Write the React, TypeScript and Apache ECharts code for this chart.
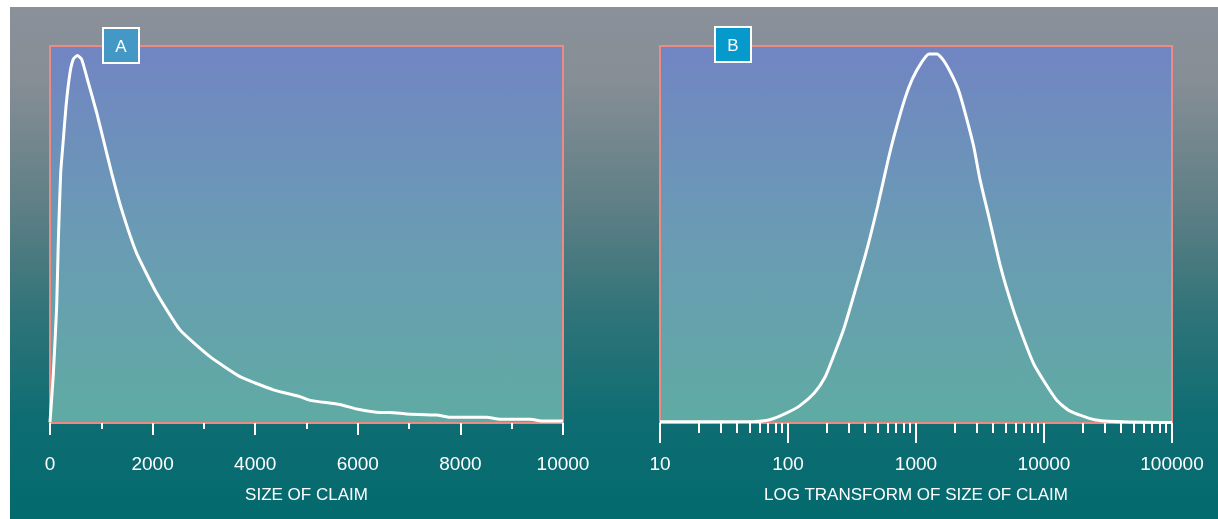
import React, { useEffect, useRef } from "react";
import * as echarts from "echarts";

// Panel A: size of claim vs relative frequency
const claimSizeA = [0, 65, 130, 163, 208, 260, 312, 390, 455, 533, 617, 747, 910, 1040, 1202, 1397, 1690, 2080, 2534, 3119, 3704, 4353, 4873, 5068, 5653, 5978, 6433, 6628, 6952, 7537, 7797, 8512, 8772, 9357, 9617, 10000];
const densityA = [0.2, 13, 30.9, 48.6, 66.3, 75.2, 84, 92.9, 96.5, 97.5, 96.5, 90.3, 82.3, 75.2, 66.3, 56.6, 45, 34.4, 24.7, 17.6, 12.3, 8.8, 7.0, 6.0, 4.9, 3.7, 2.8, 2.8, 2.4, 2.1, 1.5, 1.5, 1.0, 1.0, 0.5, 0.5];

// Panel B: log transform of size of claim
const claimSizeB = [10, 55, 72, 97, 124, 161, 195, 228, 273, 318, 405, 500, 601, 678, 813, 935, 1102, 1265, 1449, 1614, 1866, 2148, 2466, 2825, 3148, 3707, 4581, 5662, 6918, 8414, 12474, 15704, 24774, 40738, 100000];
const densityB = [0.3, 0.4, 0.85, 2.6, 4.6, 8.0, 12.2, 17.9, 25.0, 32.5, 44.9, 57.3, 69.3, 76.4, 85.7, 91.2, 95.6, 97.9, 97.9, 96.5, 92.9, 88.3, 81.2, 73.3, 64.9, 54.7, 41.4, 30.8, 22.4, 15.3, 6.2, 3.3, 0.85, 0.3, 0.1];

const ticksA = [0, 2000, 4000, 6000, 8000, 10000];
const minorTicksA = [1000, 3000, 5000, 7000, 9000];
const decadesB = [10, 100, 1000, 10000, 100000];
const minorMultipliers = [2, 3, 4, 5, 6, 7, 8, 9];

const titleA = "SIZE OF CLAIM";
const titleB = "LOG TRANSFORM OF SIZE OF CLAIM";
const panelLabels = ["A", "B"];

const FONT = "'Liberation Sans', Arial, Helvetica, sans-serif";

export default function App() {
  const ref = useRef<HTMLDivElement>(null);

  useEffect(() => {
    if (!ref.current) return;
    const chart = echarts.init(ref.current, undefined, { renderer: "svg" });

    const log10 = (v: number) => Math.log10(v);
    const majorB = decadesB.map(log10);
    const minorB: number[] = [];
    decadesB.slice(0, -1).forEach((d) => minorMultipliers.forEach((m) => minorB.push(log10(d * m))));

    const mkPlotBg = () =>
      new echarts.graphic.LinearGradient(0, 0, 0, 1, [
        { offset: 0, color: "#7185c3" },
        { offset: 0.5, color: "#6a9bb4" },
        { offset: 1, color: "#5faba3" },
      ]);

    const outerBg = new echarts.graphic.LinearGradient(0, 0, 0, 1, [
      { offset: 0, color: "#8b919a" },
      { offset: 0.15, color: "#858d95" },
      { offset: 0.4, color: "#5d7e85" },
      { offset: 0.6, color: "#2f7479" },
      { offset: 0.8, color: "#0e6d72" },
      { offset: 1, color: "#036a6e" },
    ]);

    const gridCommon = {
      show: true,
      top: 46,
      height: 377,
      borderColor: "#ee8a82",
      borderWidth: 2,
    };

    const labelStyle = {
      color: "#ffffff",
      fontSize: 19,
      fontFamily: FONT,
    };
    const nameStyle = {
      color: "#ffffff",
      fontSize: 17,
      fontFamily: FONT,
    };
    const tickLine = { color: "#ffffff", width: 2 };

    const boxes = panelLabels.map((t, i) => ({
      type: "group",
      x: i === 0 ? 103 : 715,
      y: i === 0 ? 28 : 27,
      z: 100,
      children: [
        {
          type: "rect",
          shape: { x: 0, y: 0, width: 36, height: 35 },
          style: { fill: i === 0 ? "#4398c6" : "#0699cc", stroke: "#ffffff", lineWidth: 2 },
          z: 100,
        },
        {
          type: "text",
          x: 18,
          y: 18,
          z: 101,
          style: {
            text: t,
            fill: "#ffffff",
            fontSize: 17,
            fontFamily: FONT,
            align: "center",
            verticalAlign: "middle",
          },
        },
      ],
    }));

    chart.setOption({
      animation: false,
      graphic: [
        {
          type: "rect",
          z: -100,
          silent: true,
          shape: { x: 10, y: 7, width: 1208, height: 512 },
          style: { fill: outerBg },
        },
        ...boxes,
      ],
      grid: [
        { ...gridCommon, left: 50, width: 513, backgroundColor: mkPlotBg() },
        { ...gridCommon, left: 660, width: 512, backgroundColor: mkPlotBg() },
      ],
      xAxis: [
        {
          type: "value",
          gridIndex: 0,
          position: "bottom",
          min: 0,
          max: 10000,
          interval: 2000,
          splitLine: { show: false },
          axisLine: { show: false },
          axisTick: { show: true, length: 12, lineStyle: tickLine, customValues: ticksA },
          axisLabel: { ...labelStyle, margin: 31, customValues: ticksA, formatter: (v: number) => String(v) },
          name: titleA,
          nameLocation: "middle",
          nameGap: 63,
          nameTextStyle: nameStyle,
        },
        {
          type: "value",
          gridIndex: 0,
          position: "bottom",
          min: 0,
          max: 10000,
          splitLine: { show: false },
          axisLine: { show: false },
          axisTick: { show: true, length: 6, lineStyle: tickLine, customValues: minorTicksA },
          axisLabel: { show: false },
        },
        {
          type: "value",
          gridIndex: 1,
          position: "bottom",
          min: 1,
          max: 5,
          interval: 1,
          splitLine: { show: false },
          axisLine: { show: false },
          axisTick: { show: true, length: 20, lineStyle: tickLine, customValues: majorB },
          axisLabel: {
            ...labelStyle,
            margin: 31,
            customValues: majorB,
            formatter: (v: number) => String(Math.round(Math.pow(10, v))),
          },
          name: titleB,
          nameLocation: "middle",
          nameGap: 63,
          nameTextStyle: nameStyle,
        },
        {
          type: "value",
          gridIndex: 1,
          position: "bottom",
          min: 1,
          max: 5,
          splitLine: { show: false },
          axisLine: { show: false },
          axisTick: { show: true, length: 10, lineStyle: tickLine, customValues: minorB },
          axisLabel: { show: false },
        },
      ],
      yAxis: [
        { type: "value", gridIndex: 0, min: 0, max: 100, show: false },
        { type: "value", gridIndex: 1, min: 0, max: 100, show: false },
      ],
      series: [
        {
          type: "line",
          xAxisIndex: 0,
          yAxisIndex: 0,
          data: claimSizeA.map((x, i) => [x, densityA[i]]),
          showSymbol: false,
          smooth: 0.15,
          lineStyle: { color: "#ffffff", width: 3 },
          silent: true,
        },
        {
          type: "line",
          xAxisIndex: 2,
          yAxisIndex: 1,
          data: claimSizeB.map((x, i) => [log10(x), densityB[i]]),
          showSymbol: false,
          smooth: 0.2,
          lineStyle: { color: "#ffffff", width: 3 },
          silent: true,
        },
      ],
    });

    return () => chart.dispose();
  }, []);

  return (
    <div
      ref={ref}
      style={{ position: "fixed", left: 0, top: 0, width: 1218, height: 519 }}
    />
  );
}
